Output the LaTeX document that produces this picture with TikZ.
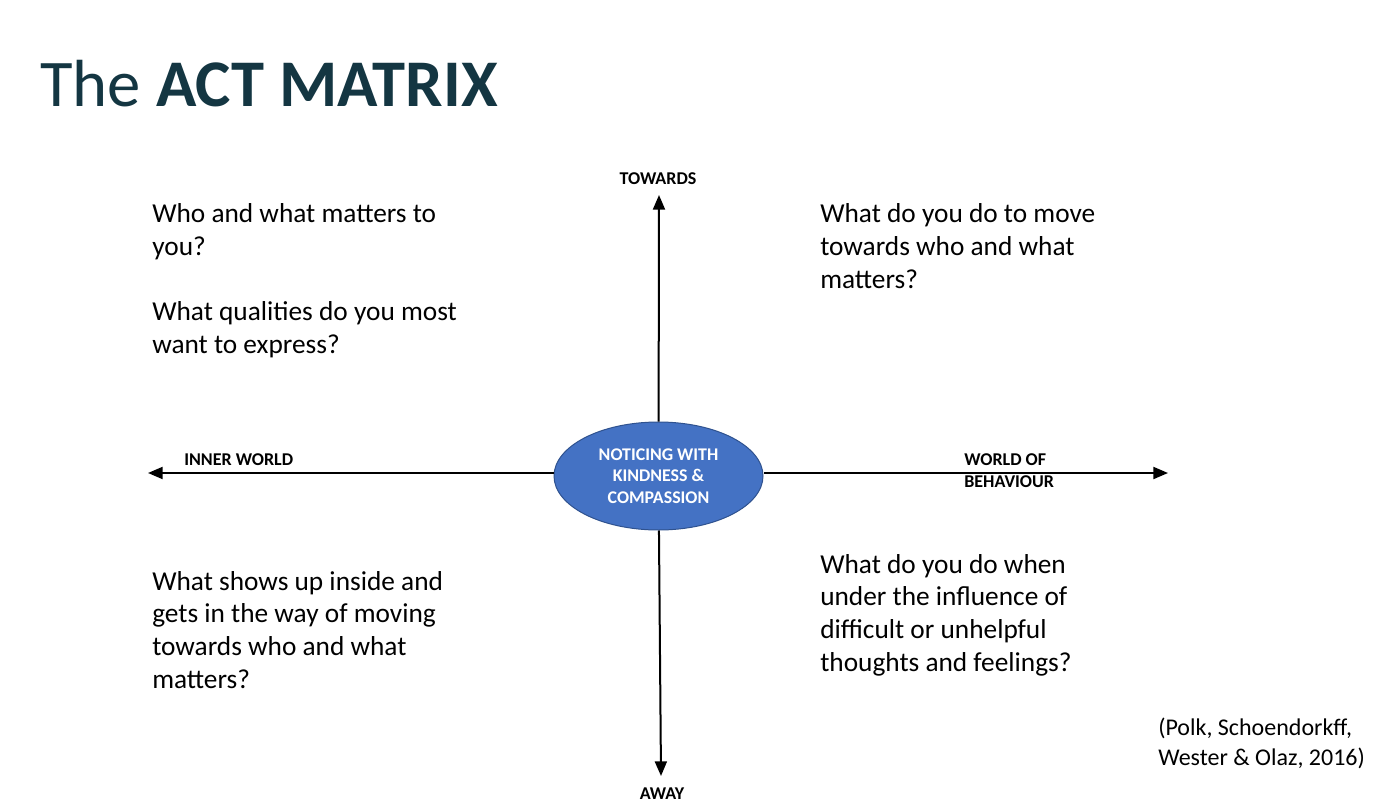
\documentclass[tikz,border=0pt]{standalone}
\usepackage{fontspec}
\setmainfont{Carlito}
\usepackage{xcolor}
\usetikzlibrary{arrows.meta,shapes.geometric}

\definecolor{titleteal}{RGB}{20,54,66}
\definecolor{coreblue}{RGB}{68,114,196}
\definecolor{coreedge}{RGB}{47,82,143}

\begin{document}
\begin{tikzpicture}[x=0.75pt, y=-0.75pt,
  quad/.style={anchor=base west, inner sep=0pt, align=left, font=\fontsize{20.5}{24.4}\selectfont},
  axislbl/.style={inner sep=0pt, font=\fontsize{13.5}{16.5}\selectfont\bfseries},
  axis/.style={line width=1.5pt, -{Triangle[length=11pt,width=9pt]}}]
\useasboundingbox (0,0) rectangle (1387,806);

% heading
\node[anchor=base west, inner sep=0pt, text=titleteal, font=\fontsize{50}{60}\selectfont] (title) at (40,107) {The \textbf{ACT MATRIX}};

% centre of the matrix
\node[ellipse, draw=coreedge, line width=0.75pt, fill=coreblue, minimum width=156.75pt, minimum height=81pt,
  inner sep=0pt, align=center, text=white, font=\fontsize{13.4}{16.2}\selectfont\bfseries] (core) at (658.5,476)
  {NOTICING WITH\\KINDNESS \&\\COMPASSION};

% axis ends
\coordinate (top) at (659,195);
\coordinate (bottom) at (661,776);
\coordinate (left) at (148,473);
\coordinate (right) at (1168,473);
\draw[axis] (core) -- (top);
\draw[axis] (core) -- (bottom);
\draw[axis] (core.west |- left) -- (left);
\draw[axis] (core.east |- right) -- (right);

% axis labels (base = last line)
\node[axislbl, anchor=base] (towards) at (658,184) {TOWARDS};
\node[axislbl, anchor=base] (away) at (662,799) {AWAY};
\node[axislbl, anchor=base west] (inner) at (184,465) {INNER WORLD};
\node[axislbl, anchor=base west, align=left] (behaviour) at (964,487) {WORLD OF\\BEHAVIOUR};

% quadrant questions (base = last line)
\node[quad] (values) at (152,353) {Who and what matters to\\you?\\[24.4pt]What qualities do you most\\want to express?};
\node[quad] (moves) at (820,288) {What do you do to move\\towards who and what\\matters?};
\node[quad] (hooks) at (152,688) {What shows up inside and\\gets in the way of moving\\towards who and what\\matters?};
\node[quad] (aways) at (820,671) {What do you do when\\under the influence of\\difficult or unhelpful\\thoughts and feelings?};

% source
\node[anchor=base west, inner sep=0pt, align=left, font=\fontsize{18}{21.8}\selectfont] (source) at (1158,765)
  {(Polk, Schoendorkff,\\Wester \& Olaz, 2016)};
\end{tikzpicture}
\end{document}
